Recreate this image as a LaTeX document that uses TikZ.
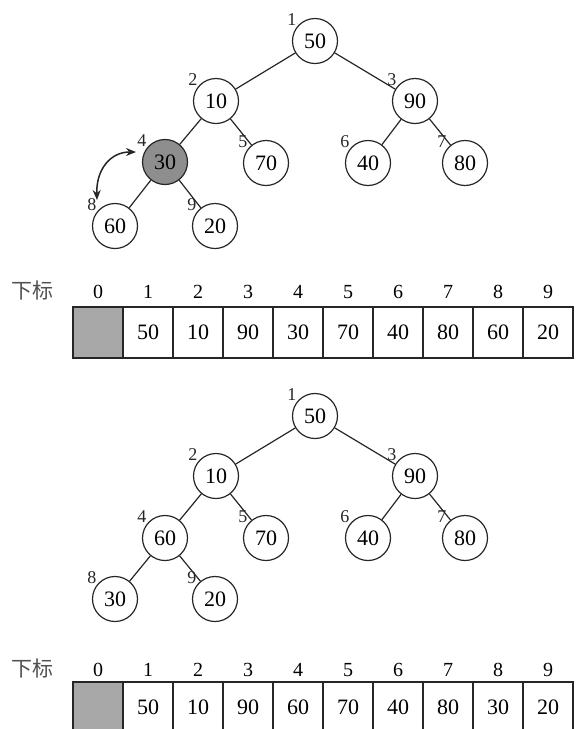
\documentclass[tikz,border=0pt]{standalone}
\usepackage{fontspec}
\setmainfont{Liberation Serif}
\newfontfamily\cjk{Noto Sans CJK SC}
\usetikzlibrary{arrows.meta}

\definecolor{inkgray}{HTML}{262626}
\definecolor{cellgray}{HTML}{A8A8A8}
\definecolor{nodegray}{HTML}{8E8E8E}

\tikzset{
  key/.style={circle, draw=inkgray, line width=1.2pt, minimum size=45pt, inner sep=0pt,
    font=\fontsize{22}{24}\selectfont},
  idx/.style={font=\fontsize{18}{20}\selectfont, inner sep=0pt, text=inkgray},
  cell/.style={draw=inkgray, line width=1.2pt, minimum width=50pt, minimum height=51pt,
    inner sep=0pt, font=\fontsize{22}{24}\selectfont},
  head/.style={font=\fontsize{20}{22}\selectfont, inner sep=0pt},
  edge/.style={draw=inkgray, line width=1.2pt}
}

\begin{document}
\begin{tikzpicture}[x=1pt, y=-1pt, >=Stealth, label distance=1pt]
  \clip (0,0) rectangle (579,729);

  % heap before the swap
  \node[key, label={[idx]140:1}] (a1) at (315,41) {50};
  \node[key, label={[idx]140:2}] (a2) at (216,101) {10};
  \node[key, label={[idx]140:3}] (a3) at (415,101) {90};
  \node[key, fill=nodegray, label={[idx]140:4}] (a4) at (165,162) {30};
  \node[key, label={[idx]140:5}] (a5) at (266,163) {70};
  \node[key, label={[idx]140:6}] (a6) at (368,163) {40};
  \node[key, label={[idx]140:7}] (a7) at (465,163) {80};
  \node[key, label={[idx]140:8}] (a8) at (115,226) {60};
  \node[key, label={[idx]140:9}] (a9) at (215,226) {20};
  \foreach \p/\c in {1/2, 1/3, 2/4, 2/5, 3/6, 3/7, 4/8, 4/9}
    \draw[edge] (a\p) -- (a\c);

  \coordinate (swapA) at (136,152);
  \coordinate (swapB) at (97,200);
  \draw[edge, line width=1.5pt, <->, >={Stealth[length=10pt, width=8pt]}]
    (swapA) .. controls (110,152) and (96,170) .. (swapB);

  % array before the swap
  \node[head, text=inkgray!80] (lblA) at (33,291) {\cjk\fontsize{21}{24}\selectfont 下标};
  \node[cell, fill=cellgray] (ta0) at (98,332.5) {};
  \node[head] (ha0) at (98,292) {0};
  \foreach \i/\v in {1/50, 2/10, 3/90, 4/30, 5/70, 6/40, 7/80, 8/60, 9/20} {
    \node[cell] (ta\i) at (98+50*\i,332.5) {\v};
    \node[head] (ha\i) at (98+50*\i,292) {\i};
  }

  % heap after the swap
  \begin{scope}[shift={(0,375)}]
    \node[key, label={[idx]140:1}] (b1) at (315,41) {50};
    \node[key, label={[idx]140:2}] (b2) at (216,101) {10};
    \node[key, label={[idx]140:3}] (b3) at (415,101) {90};
    \node[key, label={[idx]140:4}] (b4) at (165,163) {60};
    \node[key, label={[idx]140:5}] (b5) at (266,163) {70};
    \node[key, label={[idx]140:6}] (b6) at (368,163) {40};
    \node[key, label={[idx]140:7}] (b7) at (465,163) {80};
    \node[key, label={[idx]140:8}] (b8) at (115,224) {30};
    \node[key, label={[idx]140:9}] (b9) at (215,224) {20};
    \foreach \p/\c in {1/2, 1/3, 2/4, 2/5, 3/6, 3/7, 4/8, 4/9}
      \draw[edge] (b\p) -- (b\c);
  \end{scope}

  % array after the swap
  \node[head, text=inkgray!80] (lblB) at (33,669) {\cjk\fontsize{21}{24}\selectfont 下标};
  \node[cell, fill=cellgray] (tb0) at (98,707.5) {};
  \node[head] (hb0) at (98,670) {0};
  \foreach \i/\v in {1/50, 2/10, 3/90, 4/60, 5/70, 6/40, 7/80, 8/30, 9/20} {
    \node[cell] (tb\i) at (98+50*\i,707.5) {\v};
    \node[head] (hb\i) at (98+50*\i,670) {\i};
  }
\end{tikzpicture}
\end{document}
